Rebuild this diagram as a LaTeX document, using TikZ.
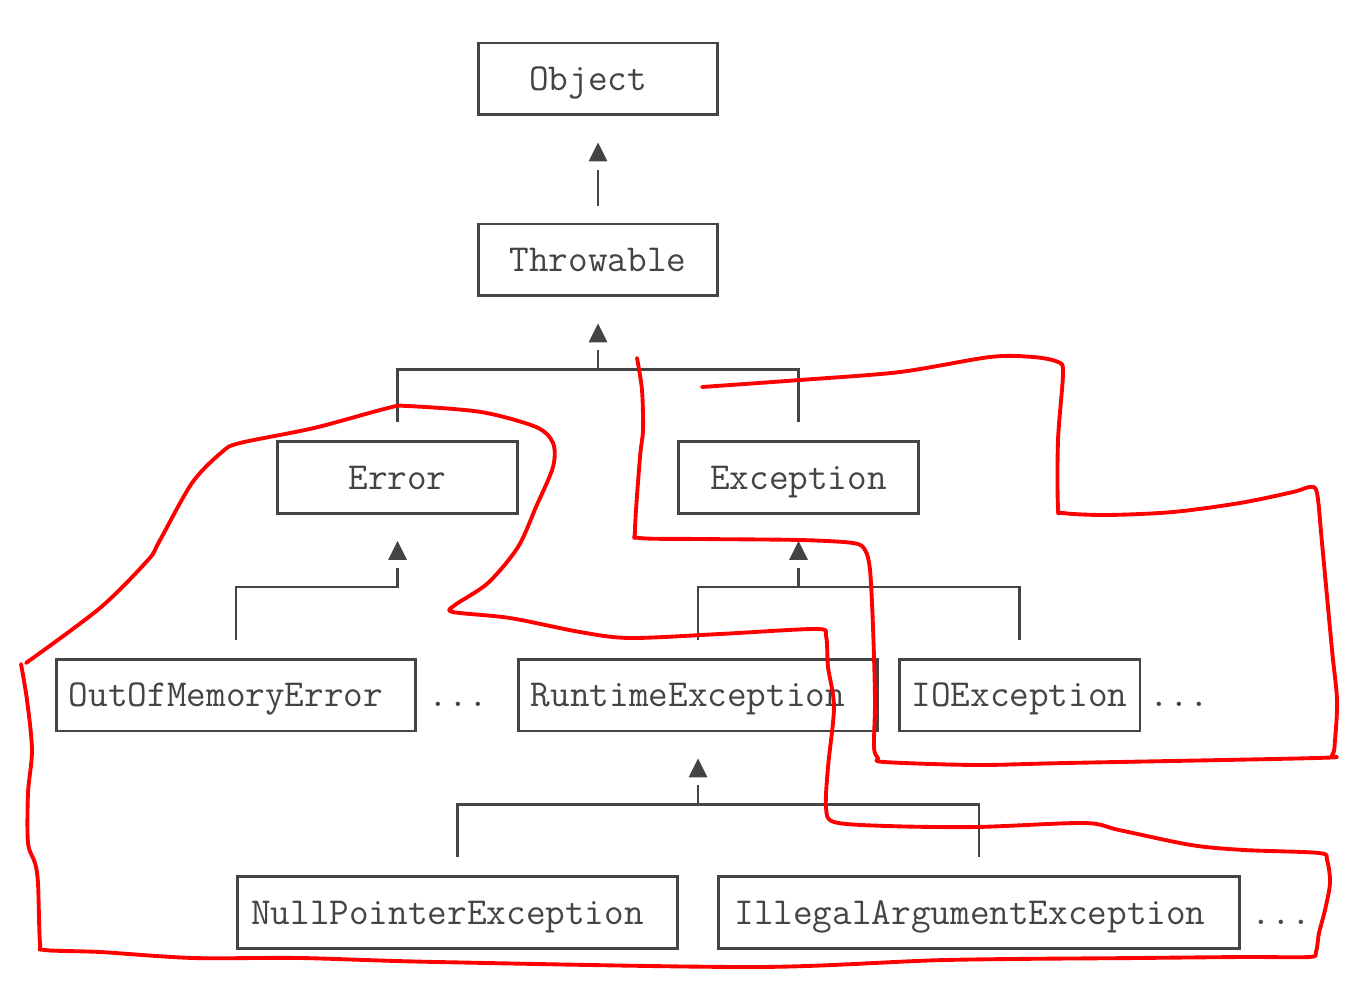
\documentclass[tikz,border=0pt]{standalone}
\usepackage{tikz}
\usetikzlibrary{calc}
\definecolor{ink}{HTML}{444444}
\tikzset{
    box/.style={draw=ink, line width=1.7pt, minimum height=1.44cm, inner sep=0pt, text=ink, font=\fontsize{21.7}{26}\selectfont\ttfamily, text height=13.3pt, text depth=0pt},
    more/.style={anchor=west, inner sep=0pt, text=ink, font=\fontsize{21.7}{26}\selectfont\ttfamily, text height=13.3pt, text depth=0pt},
    link/.style={draw=ink, line width=1.5pt},
    tip/.style={fill=ink},
    scribble/.style={draw=red, line width=2.2pt, line cap=round, line join=round, smooth, tension=0.5}
}

\begin{document}
\begin{tikzpicture}[x=0.02cm, y=-0.02cm]
    \useasboundingbox (0,0) rectangle (1358,986);
    % classes
    \node[box, minimum width=4.8cm] (object) at (598,79) {Object\hspace*{0.4cm}};
    \node[box, minimum width=4.8cm] (throwable) at (598,260) {Throwable};
    \node[box, minimum width=4.82cm] (error) at (397.5,477.5) {Error};
    \node[box, minimum width=4.82cm] (exception) at (798.5,477.5) {Exception};
    \node[box, minimum width=7.2cm] (oom) at (236,695) {OutOfMemoryError\hspace*{0.4cm}};
    \node[box, minimum width=7.2cm] (runtime) at (698,695) {RuntimeException\hspace*{0.4cm}};
    \node[box, minimum width=4.82cm] (ioex) at (1019.5,695) {IOException};
    \node[box, minimum width=8.82cm] (npe) at (457.5,912.5) {NullPointerException\hspace*{0.4cm}};
    \node[box, minimum width=10.44cm] (iae) at (979,912.5) {IllegalArgumentException\hspace*{0.36cm}};
    \node[more] (oomdots) at ($(oom.east)+(11,0)$) {...};
    \node[more] (iodots) at ($(ioex.east)+(8,0)$) {...};
    \node[more] (iaedots) at ($(iae.east)+(10,0)$) {...};

    % arrow heads and bars
    \foreach \p in {object, throwable, error, exception, runtime} {
        \fill[tip] ($(\p.south)+(0,26)$) -- ++(9.5,19) -- ++(-19,0) -- cycle;
        \coordinate (\p-bar) at ($(\p.south)+(0,72)$);
    }

    % inheritance
    \draw[link] ($(throwable.north)+(0,-17)$) -- ($(object.south)+(0,54)$);
    \draw[link] ($(error.north)+(0,-18)$) |- (throwable-bar) -| ($(exception.north)+(0,-18)$);
    \draw[link] (throwable-bar) -- ($(throwable.south)+(0,53)$);
    \draw[link] ($(oom.north)+(0,-18)$) |- (error-bar) -- ($(error.south)+(0,53)$);
    \draw[link] ($(runtime.north)+(0,-18)$) |- (exception-bar) -| ($(ioex.north)+(0,-18)$);
    \draw[link] (exception-bar) -- ($(exception.south)+(0,53)$);
    \draw[link] ($(npe.north)+(0,-18)$) |- (runtime-bar) -| ($(iae.north)+(0,-18)$);
    \draw[link] (runtime-bar) -- ($(runtime.south)+(0,53)$);

    % red marks
    \draw[scribble] plot coordinates {(26,663) (100,608) (148,560) (159,542) (192,483) (222,452) (240,443)
        (314,428) (388,408) (407,406) (481,412) (536,427) (553,443) (553,467) (536,507) (518,547)
        (488,583) (455,605) (453,612) (510,618) (580,632) (630,638) (720,634) (816,629) (826,636)
        (828,667) (834,707) (828,767) (826,807) (834,822) (887,826) (976,827) (1084,823) (1119,830)
        (1191,845) (1244,850) (1319,853) (1327,860) (1330,883) (1325,910) (1319,933) (1316,952)
        (1309,957) (1244,957) (1137,958) (945,960) (756,967) (437,962) (300,958) (193,958)
        (100,952) (45,950) (40,943) (38,883) (35,863) (28,843) (28,793) (32,750) (27,700) (21,664)};
    \draw[scribble] plot coordinates {(637,358) (642,390) (643,430) (640,457) (635,530) (640,538)
        (700,539) (800,540) (853,543) (865,550) (870,570) (873,627) (875,700) (874,747) (878,758)
        (884,762) (976,765) (1066,763) (1316,758) (1332,755) (1335,740) (1337,700) (1332,650)
        (1322,543) (1317,493) (1310,487) (1293,492) (1240,503) (1173,512) (1107,515) (1063,513)
        (1058,507) (1058,440) (1063,373) (1058,362) (1033,357) (990,357) (900,372) (800,380) (702,387)};
\end{tikzpicture}
\end{document}
